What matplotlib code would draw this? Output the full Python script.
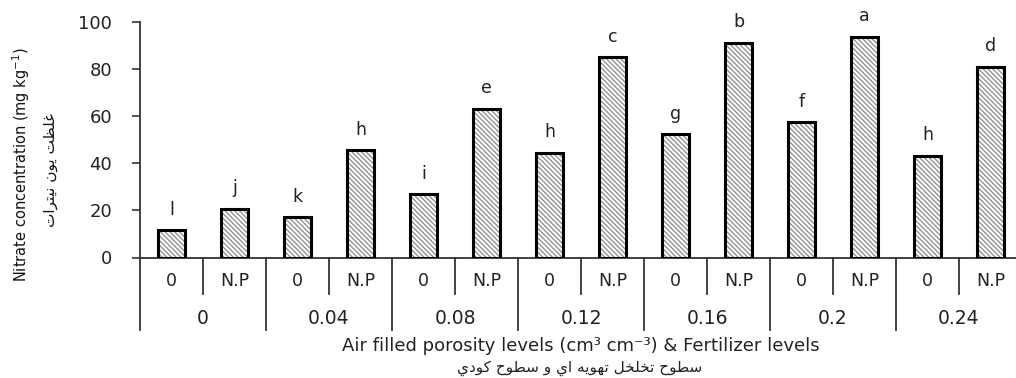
import numpy as np
import matplotlib
matplotlib.use('Agg')
import matplotlib.pyplot as plt

plt.rcParams['font.family'] = ['DejaVu Sans']
plt.rcParams['hatch.linewidth'] = 0.9

# data
porosity = ['0', '0.04', '0.08', '0.12', '0.16', '0.2', '0.24']
fertilizer = ['0', 'N.P']
nitrate = [11.5, 20.8, 17.0, 45.5, 26.8, 63.0, 44.3, 85.0, 52.3, 91.0, 57.4, 93.6, 43.2, 80.8]
letters = ['l', 'j', 'k', 'h', 'i', 'e', 'h', 'c', 'g', 'b', 'f', 'a', 'h', 'd']

ylabel_en = 'Nitrate concentration (mg kg$^{-1}$)'
ylabel_fa = 'غلظت يون نيترات'
xlabel_en = 'Air filled porosity levels (cm³ cm⁻³) & Fertilizer levels'
xlabel_fa = 'سطوح تخلخل تهويه اي و سطوح كودي'

# contextual forms for the letters used (isolated, final, initial, medial)
FORMS = {
    'ا': ('\uFE8D', '\uFE8E', None, None),
    'د': ('\uFEA9', '\uFEAA', None, None),
    'ر': ('\uFEAD', '\uFEAE', None, None),
    'و': ('\uFEED', '\uFEEE', None, None),
    'ت': ('\uFE95', '\uFE96', '\uFE97', '\uFE98'),
    'ح': ('\uFEA1', '\uFEA2', '\uFEA3', '\uFEA4'),
    'خ': ('\uFEA5', '\uFEA6', '\uFEA7', '\uFEA8'),
    'س': ('\uFEB1', '\uFEB2', '\uFEB3', '\uFEB4'),
    'ط': ('\uFEC1', '\uFEC2', '\uFEC3', '\uFEC4'),
    'ظ': ('\uFEC5', '\uFEC6', '\uFEC7', '\uFEC8'),
    'غ': ('\uFECD', '\uFECE', '\uFECF', '\uFED0'),
    'ك': ('\uFED9', '\uFEDA', '\uFEDB', '\uFEDC'),
    'ل': ('\uFEDD', '\uFEDE', '\uFEDF', '\uFEE0'),
    'ن': ('\uFEE5', '\uFEE6', '\uFEE7', '\uFEE8'),
    'ه': ('\uFEE9', '\uFEEA', '\uFEEB', '\uFEEC'),
    'ي': ('\uFEF1', '\uFEF2', '\uFEF3', '\uFEF4'),
}


def shape(text):
    # simple arabic shaping + right-to-left order, matplotlib does neither
    out = []
    for i, c in enumerate(text):
        if c not in FORMS:
            out.append(c)
            continue
        prev = text[i - 1] if i > 0 else None
        nxt = text[i + 1] if i + 1 < len(text) else None
        join_prev = prev in FORMS and FORMS[prev][2] is not None
        join_next = nxt in FORMS and FORMS[c][2] is not None
        iso, fin, ini, med = FORMS[c]
        if join_prev and join_next:
            out.append(med)
        elif join_prev:
            out.append(fin)
        elif join_next:
            out.append(ini)
        else:
            out.append(iso)
    return ''.join(out)[::-1]


W, H = 1016, 378
fig = plt.figure(figsize=(W / 100, H / 100), dpi=100)
ax = fig.add_axes([140 / W, (H - 257.5) / H, 882 / W, 235.5 / H])

x = np.arange(len(nitrate))
ax.bar(x, nitrate, width=0.42, color='white', edgecolor='#8a8a8a', linewidth=0,
       hatch='\\' * 7, zorder=2)
ax.bar(x, nitrate, width=0.42, color='none', edgecolor='black', linewidth=2.2, zorder=3)

for xi, v, lab in zip(x, nitrate, letters):
    ax.text(xi, v + 5, lab, ha='center', va='bottom', fontsize=12.5, color='#222222')

ax.set_xlim(-0.5, len(nitrate) - 0.5)
ax.set_ylim(0, 100)
ax.set_yticks(np.arange(0, 101, 20))
ax.tick_params(axis='y', labelsize=13, length=6, width=1.2, color='#333333',
               labelcolor='#222222', pad=14)
ax.set_xticks([])
for s in ['top', 'right']:
    ax.spines[s].set_visible(False)
ax.spines['left'].set_linewidth(1.3)
ax.spines['left'].set_color('#333333')
ax.spines['bottom'].set_linewidth(1.3)
ax.spines['bottom'].set_color('#333333')

# two level category axis
trans = ax.get_xaxis_transform()
for g, grp in enumerate(porosity):
    left = 2 * g - 0.5
    ax.plot([left, left], [0, -0.308], transform=trans, color='#333333', lw=1.3,
            clip_on=False)
    ax.plot([left + 1, left + 1], [0, -0.153], transform=trans, color='#333333', lw=1.3,
            clip_on=False)
    for k, f in enumerate(fertilizer):
        ax.text(2 * g + k, -0.10, f, transform=trans, ha='center', va='center',
                fontsize=12.5, color='#222222')
    ax.text(2 * g + 0.5, -0.257, grp, transform=trans, ha='center', va='center',
            fontsize=13.5, color='#222222')
ax.plot([13.5, 13.5], [0, -0.308], transform=trans, color='#333333', lw=1.3, clip_on=False)

fig.text(581 / W, 1 - 346 / H, xlabel_en, ha='center', va='center', fontsize=13,
         color='#222222')
fig.text(580 / W, 1 - 368 / H, shape(xlabel_fa), ha='center', va='center', fontsize=11,
         color='#222222')

fig.text(21 / W, 1 - 165 / H, ylabel_en, rotation=90, ha='center', va='center',
         fontsize=10.5, color='#111111')
fig.text(50 / W, 1 - 170 / H, shape(ylabel_fa), rotation=90, ha='center', va='center',
         fontsize=11, color='#111111')

fig.savefig('out.png', dpi=100)
